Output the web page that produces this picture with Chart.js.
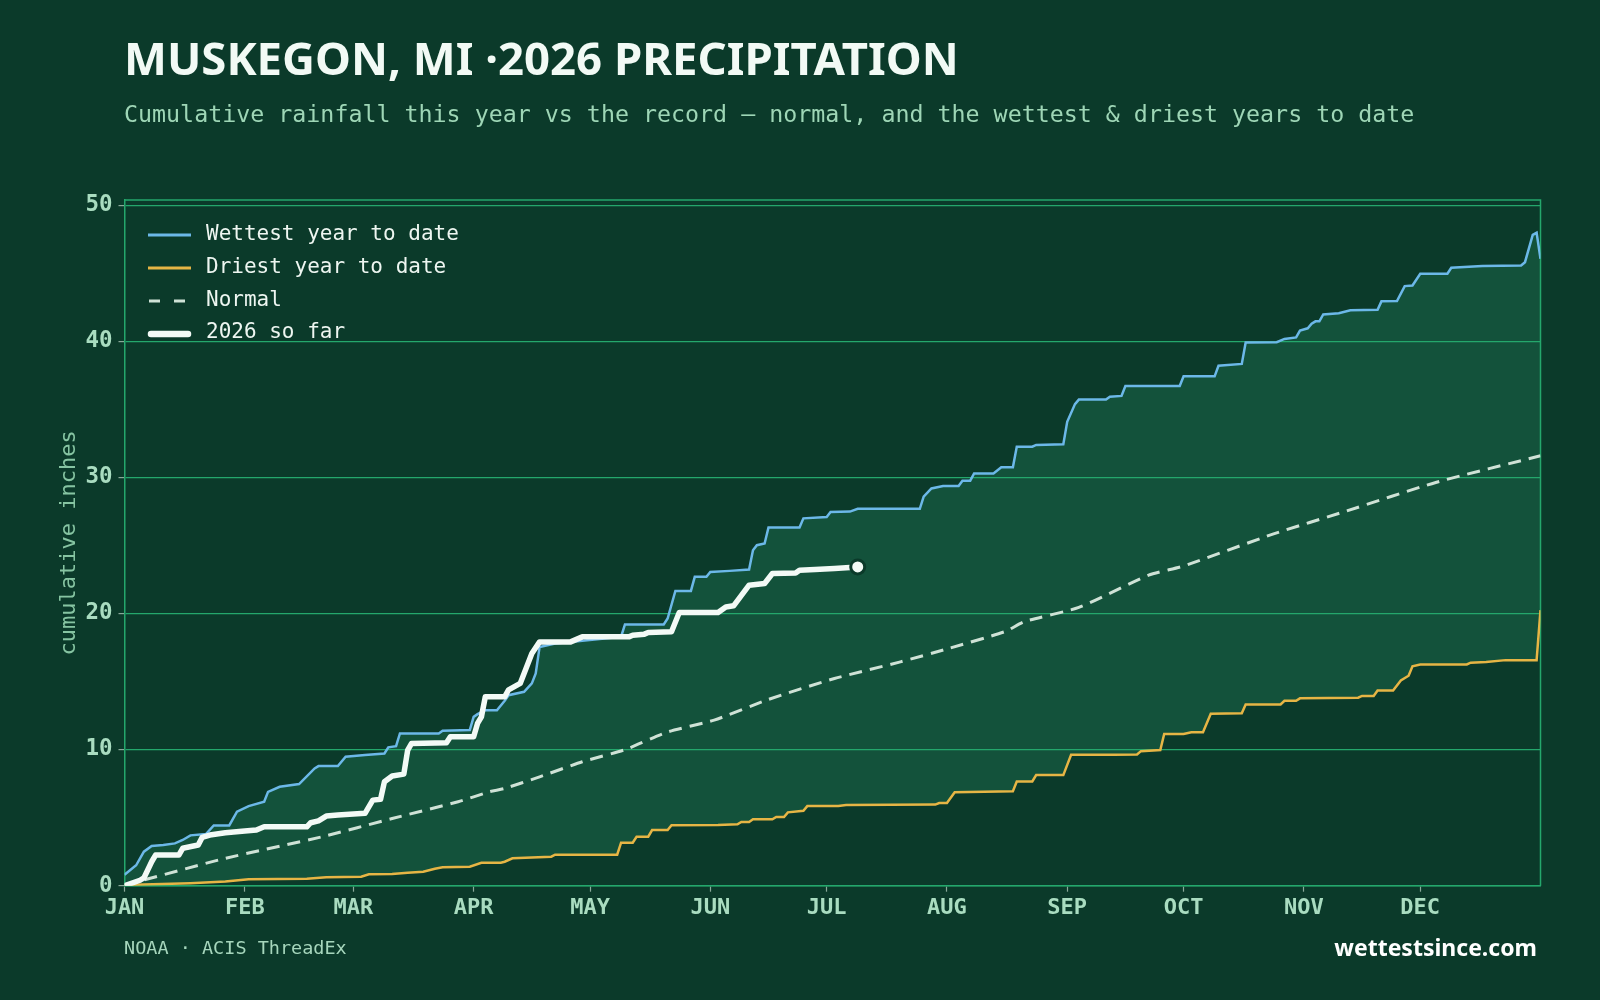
<!DOCTYPE html>
<html>
<head>
<meta charset="utf-8">
<script src="https://cdn.jsdelivr.net/npm/chart.js@4.4.1/dist/chart.umd.min.js"></script>
<style>
html,body{margin:0;padding:0;background:#0b3a2a;}
#wrap{position:relative;width:1600px;height:1000px;overflow:hidden;background:#0b3a2a;}
#c{position:absolute;left:0;top:0;}
.t{position:absolute;white-space:nowrap;}
#title{left:124px;top:35px;font-family:'Noto Sans',sans-serif;font-weight:700;font-size:45.5px;line-height:45.5px;color:#f2faf5;}
#sub{left:124px;top:102px;font-family:'DejaVu Sans Mono',monospace;font-size:23.3px;line-height:23.3px;color:#9ed6b6;}
#src{left:124px;top:939px;font-family:'DejaVu Sans Mono',monospace;font-size:18.5px;line-height:18.5px;color:#a6d6bc;}
#brand{right:63px;top:936px;font-family:'Noto Sans',sans-serif;font-weight:700;font-size:23px;line-height:23px;color:#ffffff;}
.lt{left:206px;font-family:'DejaVu Sans Mono',monospace;font-size:21px;line-height:21px;color:#eef6f1;}
.sw{position:absolute;left:146px;}
</style>
</head>
<body>
<div id="wrap">
  <canvas id="c" width="1600" height="1000"></canvas>
  <div class="t" id="title">MUSKEGON, MI ·2026 PRECIPITATION</div>
  <div class="t" id="sub">Cumulative rainfall this year vs the record — normal, and the wettest &amp; driest years to date</div>
  <div id="legend"></div>
  <div class="t" id="src">NOAA · ACIS ThreadEx</div>
  <div class="t" id="brand">wettestsince.com</div>
</div>
<script>
// ---- data (day of year, cumulative inches) ----
const monthStarts = [0,31,59,90,120,151,181,212,243,273,304,334];
const monthLabels = ['JAN','FEB','MAR','APR','MAY','JUN','JUL','AUG','SEP','OCT','NOV','DEC'];
const yTicks = [0,10,20,30,40,50];

const wetDays = [0,3,5,7,10,13,15,17,21,23,27,29,32,36,37,40,45,49,50,55,57,62,67,68,70,71,81,82,89,90,91,93,96,98,99,103,105,106,107,111,118,128,129,139,140,142,146,147,150,151,156,161,162,163,165,166,174,175,181,182,187,189,205,206,208,211,215,216,218,219,224,226,229,230,234,235,242,243,245,246,253,254,257,258,272,273,281,282,288,289,297,299,302,303,305,306,307,308,309,313,316,323,324,328,330,332,334,341,342,350,360,361,363,364,365];
const wetVals = [0.8,1.5,2.5,2.92,2.99,3.11,3.36,3.7,3.8,4.43,4.43,5.44,5.85,6.17,6.9,7.27,7.47,8.62,8.79,8.79,9.48,9.6,9.72,10.17,10.26,11.19,11.19,11.39,11.44,12.41,12.61,12.9,12.9,13.6,14.0,14.25,14.87,15.6,17.55,17.8,18.0,18.3,19.2,19.2,19.64,21.67,21.67,22.7,22.7,23.06,23.14,23.24,24.66,25.03,25.15,26.33,26.33,27.0,27.1,27.47,27.5,27.7,27.7,28.6,29.2,29.38,29.38,29.77,29.77,30.3,30.3,30.75,30.75,32.27,32.27,32.4,32.45,34.1,35.4,35.73,35.73,35.94,36.0,36.73,36.73,37.44,37.44,38.22,38.35,39.93,39.95,40.19,40.3,40.8,40.97,41.3,41.48,41.48,41.99,42.07,42.29,42.34,42.95,42.97,44.07,44.12,44.98,44.98,45.42,45.54,45.59,45.83,47.84,47.99,46.08];

const dryDays = [0,17,26,32,47,52,61,63,69,73,77,80,82,89,92,97,98,100,110,111,127,128,131,132,135,136,140,141,153,158,159,161,162,167,168,170,171,175,176,184,186,209,210,212,214,229,230,234,235,242,244,255,261,262,267,268,273,275,278,280,288,289,298,299,302,303,318,319,322,323,327,329,331,332,334,346,347,351,356,364,365];
const dryVals = [0.05,0.18,0.3,0.47,0.51,0.62,0.66,0.84,0.86,0.96,1.03,1.25,1.35,1.4,1.69,1.69,1.76,2.01,2.13,2.28,2.28,3.16,3.16,3.6,3.6,4.09,4.09,4.44,4.46,4.51,4.68,4.68,4.88,4.88,5.05,5.05,5.39,5.51,5.85,5.85,5.93,5.96,6.08,6.08,6.87,6.95,7.66,7.66,8.13,8.13,9.63,9.63,9.65,9.89,9.97,11.15,11.15,11.28,11.28,12.64,12.67,13.32,13.32,13.59,13.59,13.77,13.82,13.95,13.95,14.35,14.35,15.08,15.43,16.13,16.26,16.26,16.39,16.45,16.58,16.58,20.25];

const normDays = [0,5,26,51,69,86,94,98,107,118,129,140,152,166,183,200,212,227,232,246,264,273,296,315,338,365];
const normVals = [0,0.42,2.01,3.6,4.94,6.17,6.9,7.15,8.0,9.11,10.0,11.3,12.17,13.69,15.23,16.45,17.4,18.68,19.41,20.46,22.82,23.5,25.84,27.54,29.64,31.6];

const curDays = [0,4,5,7,8,14,15,19,20,22,26,31,34,36,47,48,50,52,55,62,64,66,67,69,72,73,74,83,84,90,91,92,93,98,99,102,103,105,107,115,118,130,131,134,135,141,143,153,155,157,161,165,167,173,174,178,183,187,189];
const curVals = [0,0.4,0.57,1.76,2.25,2.25,2.75,2.99,3.55,3.72,3.89,4.02,4.09,4.33,4.33,4.63,4.77,5.12,5.19,5.32,6.29,6.35,7.64,8.06,8.2,9.97,10.46,10.5,10.94,10.94,11.93,12.41,13.88,13.88,14.4,14.87,15.6,17.07,17.92,17.92,18.29,18.29,18.41,18.49,18.61,18.66,20.08,20.08,20.49,20.57,22.09,22.21,22.95,22.99,23.19,23.24,23.31,23.39,23.43];

const seriesNames = ['Wettest year to date','Driest year to date','Normal','2026 so far'];

// ---- styles ----
const BG = '#0b3a2a';
const C_WET = '#6cb8e8', C_DRY = '#e6b545', C_NORM = '#cfe2d6', C_CUR = '#f3faf6';
const C_GRID = '#24a76c', C_TICK = '#8aa89a', C_LABEL = '#a9dcc0';

const pts = (xs, ys) => xs.map((x, i) => ({x, y: ys[i]}));

// legend (HTML)
(function(){
  const lg = document.getElementById('legend');
  const swatches = [
    `<svg width="48" height="12"><line x1="2" y1="6" x2="45" y2="6" stroke="${C_WET}" stroke-width="3"/></svg>`,
    `<svg width="48" height="12"><line x1="2" y1="6" x2="45" y2="6" stroke="${C_DRY}" stroke-width="3"/></svg>`,
    `<svg width="48" height="12"><line x1="3" y1="6" x2="45" y2="6" stroke="${C_NORM}" stroke-width="3" stroke-dasharray="11 14"/></svg>`,
    `<svg width="48" height="12"><line x1="5" y1="6" x2="42" y2="6" stroke="${C_CUR}" stroke-width="6.5" stroke-linecap="round"/></svg>`
  ];
  seriesNames.forEach((n, i) => {
    const cy = 233.3 + i * 32.8;
    const sw = document.createElement('div');
    sw.className = 'sw'; sw.style.top = (cy - 6) + 'px'; sw.innerHTML = swatches[i];
    lg.appendChild(sw);
    const tx = document.createElement('div');
    tx.className = 't lt'; tx.style.top = (cy + 7.4 - 17.8) + 'px'; tx.textContent = n;
    lg.appendChild(tx);
  });
})();

const framePlugin = {
  id: 'frame',
  beforeDatasetsDraw(chart) {
    const {ctx, chartArea: a} = chart;
    ctx.save();
    ctx.strokeStyle = C_GRID; ctx.lineWidth = 1.5;
    ctx.beginPath();
    ctx.moveTo(a.left, a.top); ctx.lineTo(a.right, a.top); ctx.lineTo(a.right, a.bottom);
    ctx.stroke();
    ctx.restore();
  }
};

const lastIdx = curDays.length - 1;

new Chart(document.getElementById('c'), {
  type: 'line',
  data: {
    datasets: [
      { label: seriesNames[0], data: pts(wetDays, wetVals), borderColor: C_WET, borderWidth: 2.5,
        backgroundColor: '#13523b', fill: '+1', pointRadius: 0, tension: 0, order: 3 },
      { label: seriesNames[1], data: pts(dryDays, dryVals), borderColor: C_DRY, borderWidth: 2.5,
        fill: false, pointRadius: 0, tension: 0, order: 2 },
      { label: seriesNames[2], data: pts(normDays, normVals), borderColor: C_NORM, borderWidth: 3,
        borderDash: [13, 8], fill: false, pointRadius: 0, tension: 0.2, order: 1 },
      { label: seriesNames[3], data: pts(curDays, curVals), borderColor: C_CUR, borderWidth: 5.5,
        borderJoinStyle: 'round', borderCapStyle: 'round', fill: false, tension: 0, order: 0,
        pointRadius: c => c.dataIndex === lastIdx ? 7 : 0,
        pointHoverRadius: 0,
        pointBackgroundColor: C_CUR, pointBorderColor: BG, pointBorderWidth: 3 }
    ]
  },
  options: {
    responsive: false,
    animation: false,
    devicePixelRatio: 1,
    layout: { padding: { left: 0, top: 200, right: 59.5, bottom: 54.3 } },
    plugins: {
      legend: { display: false },
      tooltip: { enabled: false },
      filler: { drawTime: 'beforeDraw' }
    },
    scales: {
      x: {
        type: 'linear', min: 0, max: 365,
        afterBuildTicks: s => { s.ticks = monthStarts.map(v => ({value: v})); },
        afterFit: s => { s.height = 60; },
        ticks: {
          autoSkip: false, maxRotation: 0, padding: 3,
          color: C_LABEL,
          font: { family: 'DejaVu Sans Mono', weight: 'bold', size: 22 },
          callback: v => monthLabels[monthStarts.indexOf(v)]
        },
        grid: { drawOnChartArea: false, tickLength: 6, tickColor: C_TICK, tickWidth: 1.2 },
        border: { display: true, color: C_GRID, width: 1.5 }
      },
      y: {
        min: 0, max: 50.4,
        afterBuildTicks: s => { s.ticks = yTicks.map(v => ({value: v})); },
        afterFit: s => { s.width = 124.5; },
        ticks: {
          padding: 6, color: C_LABEL,
          font: { family: 'DejaVu Sans Mono', weight: 'bold', size: 22.5 }
        },
        grid: { color: C_GRID, lineWidth: 1.2, tickLength: 6, tickColor: C_TICK, tickWidth: 1.2 },
        border: { display: true, color: C_GRID, width: 1.5 },
        title: {
          display: true, text: 'cumulative inches', color: '#86c4a2',
          font: { family: 'DejaVu Sans Mono', size: 22 },
          padding: { top: 56, bottom: 0 }
        }
      }
    }
  },
  plugins: [framePlugin]
});
</script>
</body>
</html>
